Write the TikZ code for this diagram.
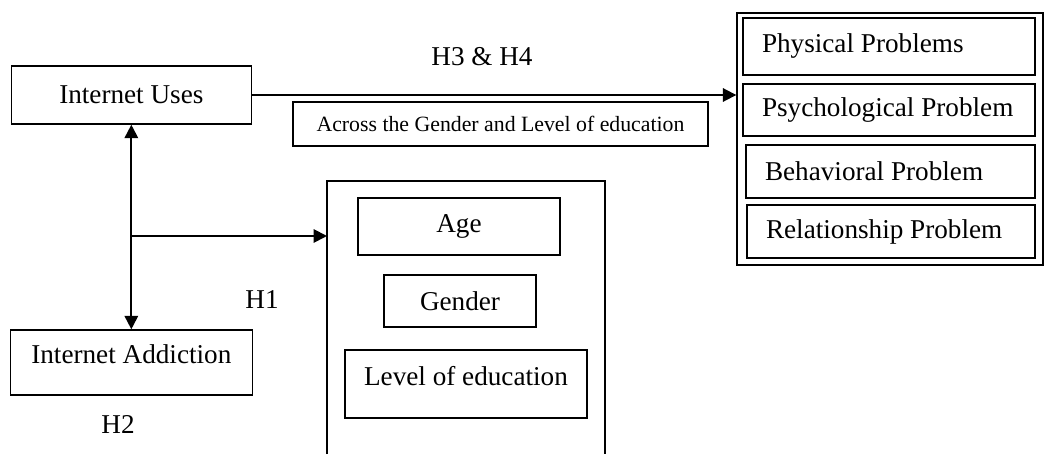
\documentclass[tikz,border=0pt]{standalone}
\usepackage{fontspec}
\setmainfont{Liberation Serif}
\usetikzlibrary{arrows.meta}
\hyphenpenalty=10000
\tikzset{
  box/.style={draw, semithick, inner sep=0pt, align=center, font=\fontsize{11.6}{14}\selectfont},
  probbox/.style={draw, semithick, inner xsep=0.285cm, inner ysep=0pt, align=flush left, font=\fontsize{11.6}{14}\selectfont},
  hyp/.style={inner sep=0pt, font=\fontsize{11.6}{14}\selectfont},
  link/.style={thick, -{Triangle[length=2mm,width=2mm]}},
}
\begin{document}
\begin{tikzpicture}[x=1cm,y=1cm]
\useasboundingbox (0,0) rectangle (15.675,6.81);
% left side
\node[box, minimum width=3.6cm, minimum height=0.87cm] (iu) at (1.97,5.385) {Internet Uses};
\node[box, minimum width=3.63cm, minimum height=0.975cm, text depth=0.255cm] (ia) at (1.97,1.3725) {Internet Addiction};
\node[hyp] (h1) at (3.93,2.31) {H1};
\node[hyp] (h2) at (1.77,0.45) {H2};
% factors
\draw[semithick] (4.905,0) |- (9.075,4.095) -- (9.075,0);
\coordinate (fork) at (1.97,3.27);
\coordinate (factin) at (4.905,3.27);
\node[box, minimum width=3.03cm, minimum height=0.855cm] (age) at (6.885,3.4125) {Age};
\node[box, minimum width=2.28cm, minimum height=0.78cm] (gender) at (6.9,2.295) {Gender};
\node[box, minimum width=3.63cm, minimum height=1.02cm, text depth=0.24cm] (edu) at (6.99,1.05) {Level of education};
% problems
\node[draw, semithick, minimum width=4.59cm, minimum height=3.78cm] (probs) at (13.35,4.725) {};
\node[probbox, text width=3.81cm, minimum height=0.855cm] (phys) at (13.335,6.1125) {Physical Problems};
\node[probbox, text width=3.81cm, minimum height=0.78cm] (psych) at (13.335,5.16) {Psychological Problem};
\node[probbox, text width=3.765cm, minimum height=0.795cm] (behav) at (13.3575,4.2375) {Behavioral Problem};
\node[probbox, text width=3.75cm, minimum height=0.795cm] (relat) at (13.365,3.3375) {Relationship Problem};
\node[hyp] (h34) at (7.23,5.955) {H3 \& H4};
\node[box, minimum width=6.225cm, minimum height=0.66cm, font=\fontsize{9.3}{11}\selectfont] (across) at (7.5075,4.95)
{Across the Gender and Level of education};
% arrows
\draw[link] (iu.east) -- (iu.east -| probs.west);
\draw[link, {Triangle[length=2mm,width=2mm]}-{Triangle[length=2mm,width=2mm]}] (iu.south) -- (ia.north);
\draw[link] (fork) -- (factin);
\end{tikzpicture}
\end{document}
